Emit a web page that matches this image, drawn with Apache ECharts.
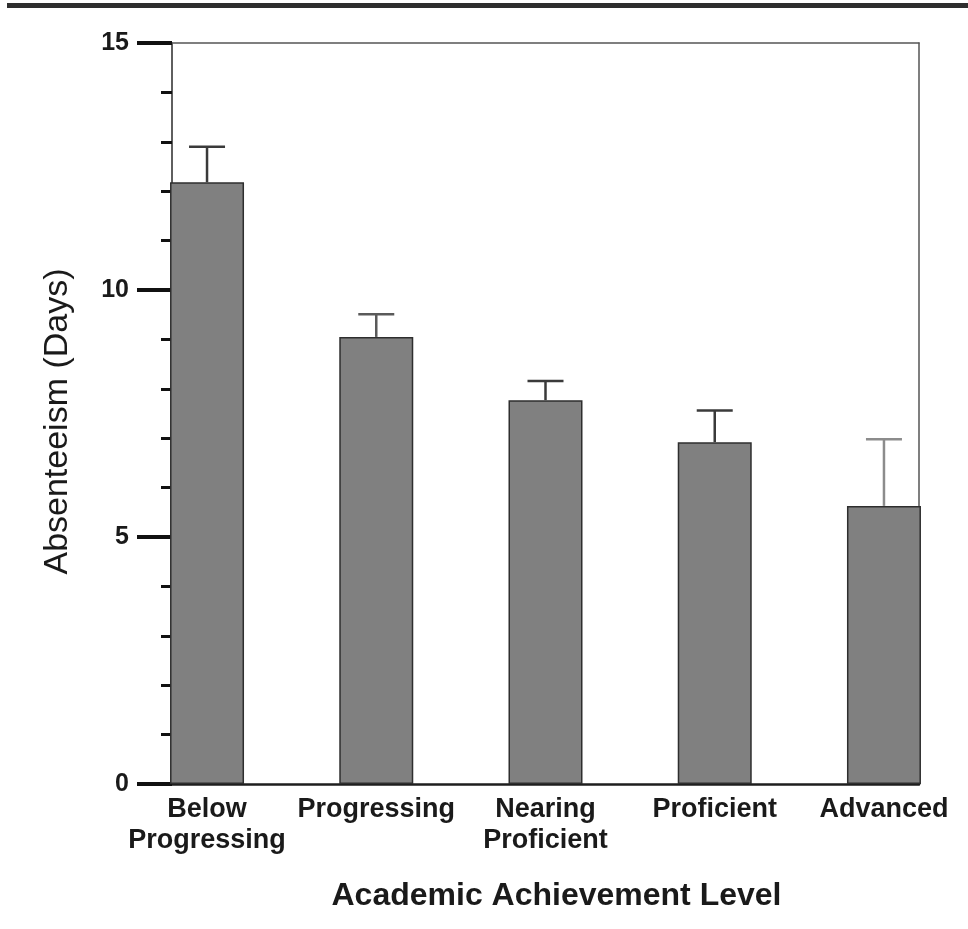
<!DOCTYPE html>
<html>
<head>
<meta charset="utf-8">
<script src="https://cdn.jsdelivr.net/npm/echarts@6/dist/echarts.min.js"></script>
<style>
  html, body { margin: 0; padding: 0; background: #fff; }
  #chart { width: 968px; height: 929px; }
</style>
</head>
<body>
<div id="chart"></div>
<script>
// Mean absenteeism (days) by academic achievement level, with upper error bars
const categories = ['Below\nProgressing', 'Progressing', 'Nearing\nProficient', 'Proficient', 'Advanced'];
const meanDays = [12.18, 9.05, 7.77, 6.92, 5.63];
const errorTop = [12.90, 9.51, 8.16, 7.56, 6.98];
const yTicks = [0, 5, 10, 15];

const FONT = "'Liberation Sans', Arial, Helvetica, sans-serif";
const errColors = ['#3a3a3a', '#5a5a5a', '#3a3a3a', '#3a3a3a', '#8c8c8c'];

const chart = echarts.init(document.getElementById('chart'), null, { renderer: 'canvas' });

const barData = meanDays.map((v, i) => [i, v]);
const errData = meanDays.map((v, i) => [i, v, errorTop[i]]);

const option = {
  animation: false,
  backgroundColor: '#ffffff',
  grid: { left: 172, right: 49, top: 43, bottom: 145, containLabel: false },
  graphic: [
    { type: 'rect', shape: { x: 7, y: 3, width: 961, height: 5 }, style: { fill: '#2e2e2e' }, silent: true }
  ],
  xAxis: [
    {
      type: 'value',
      position: 'bottom',
      min: -0.207,
      max: 4.207,
      splitLine: { show: false },
      axisTick: { show: false },
      axisLine: { show: true, onZero: false, lineStyle: { color: '#1e1e1e', width: 2.5 } },
      axisLabel: {
        customValues: categories.map((c, i) => i),
        formatter: (v) => categories[Math.round(v)] || '',
        fontFamily: FONT,
        fontWeight: 'bold',
        fontSize: 27,
        lineHeight: 31,
        color: '#1a1a1a',
        margin: 10,
        showMinLabel: true,
        showMaxLabel: true
      },
      name: 'Academic Achievement Level',
      nameLocation: 'middle',
      nameGap: 96,
      nameTextStyle: { fontFamily: FONT, fontWeight: 'bold', fontSize: 32, color: '#1a1a1a', padding: [0, 0, 0, 22] }
    },
    {
      type: 'value',
      position: 'top',
      min: -0.207,
      max: 4.207,
      splitLine: { show: false },
      axisTick: { show: false },
      axisLabel: { show: false },
      axisLine: { show: true, onZero: false, lineStyle: { color: '#555', width: 1.5 } }
    }
  ],
  yAxis: [
    {
      type: 'value',
      position: 'left',
      min: 0,
      max: 15,
      interval: 5,
      splitLine: { show: false },
      axisLine: { show: true, onZero: false, lineStyle: { color: '#2a2a2a', width: 1.5 } },
      axisTick: { show: true, length: 35, lineStyle: { color: '#111', width: 4 } },
      minorTick: { show: true, splitNumber: 5, length: 11, lineStyle: { color: '#111', width: 3 } },
      axisLabel: {
        customValues: yTicks,
        fontFamily: FONT,
        fontWeight: 'bold',
        fontSize: 25,
        color: '#1a1a1a',
        margin: 43
      },
      name: 'Absenteeism (Days)',
      nameLocation: 'middle',
      nameRotate: 90,
      nameGap: 97,
      nameTextStyle: { fontFamily: FONT, fontSize: 34, color: '#1a1a1a', padding: [0, 16, 0, 0] }
    },
    {
      type: 'value',
      position: 'right',
      min: 0,
      max: 15,
      splitLine: { show: false },
      axisTick: { show: false },
      axisLabel: { show: false },
      axisLine: { show: true, onZero: false, lineStyle: { color: '#555', width: 1.5 } }
    }
  ],
  series: [
    {
      type: 'bar',
      xAxisIndex: 0,
      yAxisIndex: 0,
      data: barData,
      barWidth: 74,
      clip: false,
      itemStyle: { color: '#808080', borderColor: '#2e2e2e', borderWidth: 1.5 },
      z: 2
    },
    {
      type: 'custom',
      xAxisIndex: 0,
      yAxisIndex: 0,
      data: errData,
      clip: false,
      z: 3,
      renderItem: function (params, api) {
        const x = api.value(0);
        const low = api.coord([x, api.value(1)]);
        const high = api.coord([x, api.value(2)]);
        const half = 18;
        const color = errColors[params.dataIndex];
        const style = { stroke: color, lineWidth: 2.5, fill: null };
        return {
          type: 'group',
          children: [
            { type: 'line', shape: { x1: high[0], y1: high[1], x2: low[0], y2: low[1] }, style: style },
            { type: 'line', shape: { x1: high[0] - half, y1: high[1], x2: high[0] + half, y2: high[1] }, style: style }
          ]
        };
      }
    }
  ]
};

chart.setOption(option);
</script>
</body>
</html>
